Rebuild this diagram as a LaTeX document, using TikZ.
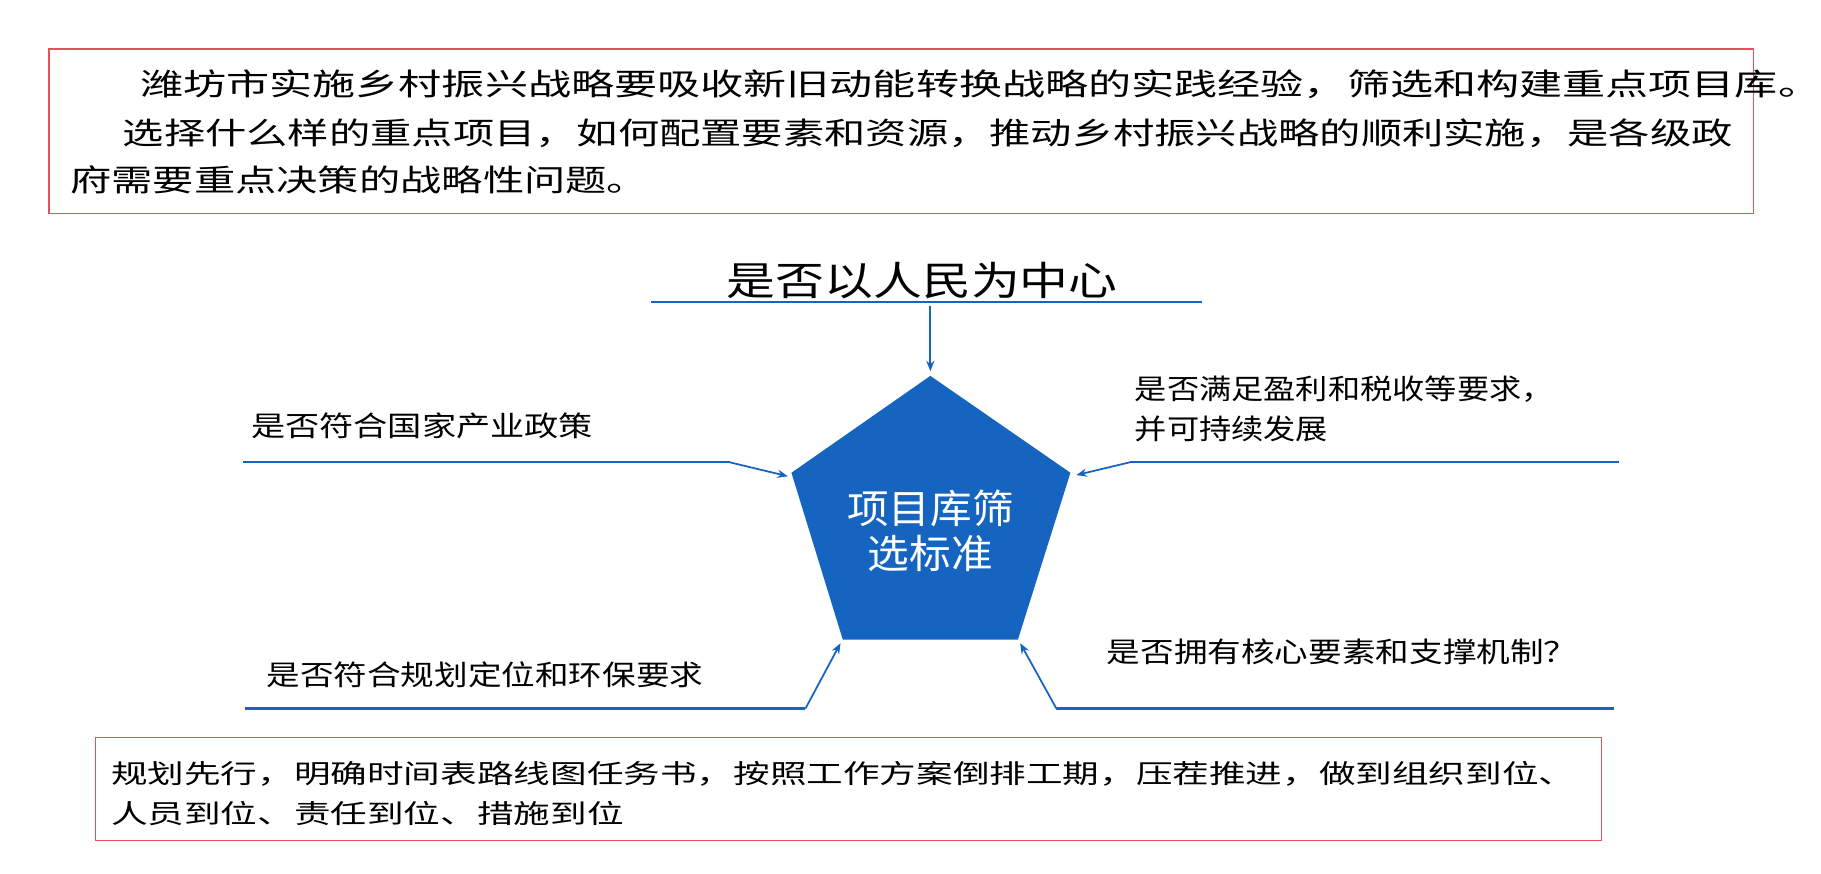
\documentclass[tikz,border=0pt]{standalone}
\usepackage{fontspec}
\newfontfamily\cjk{Noto Sans CJK SC}
\usetikzlibrary{arrows.meta}
\definecolor{bl}{HTML}{1565C0}
\definecolor{rd}{HTML}{E8505B}
\tikzset{
  redbox/.style={draw=rd,line width=1.2pt},
  txt/.style={anchor=west,inner sep=0pt,font=\cjk},
  bline/.style={draw=bl,line width=2pt},
  barrow/.style={draw=bl,line width=1.5pt,-{Stealth[length=9pt,width=7pt]}}
}
\newcommand{\Sx}[3]{\scalebox{#1}[1]{\fontsize{#2}{#2}\selectfont #3}}
\begin{document}
\begin{tikzpicture}[x=1pt,y=-1pt]
\useasboundingbox (0,0) rectangle (1560,748);
\fill[white] (0,0) rectangle (1560,748);
% top box
\draw[redbox] (42,42) rectangle (1502,183);
\node[txt] (t1) at (120,72) {\Sx{1.42}{26}{潍坊市实施乡村振兴战略要吸收新旧动能转换战略的实践经验，筛选和构建重点项目库。}};
\node[txt] (t2) at (105,114) {\Sx{1.36}{26}{选择什么样的重点项目，如何配置要素和资源，推动乡村振兴战略的顺利实施，是各级政}};
\node[txt] (t3) at (60,154) {\Sx{1.36}{26}{府需要重点决策的战略性问题。}};
% pentagon
\fill[bl] (797,322) coordinate (pa) -- (917,405) coordinate (pr) -- (872,548) coordinate (pbr) -- (722,548) coordinate (pbl) -- (678,405) coordinate (pl) -- cycle;
\node[font=\cjk,text=white,align=center,inner sep=0pt] (pc) at (797,455) {\Sx{1.05}{34}{项目库筛}\\[6pt]\Sx{1.05}{34}{选标准}};
% top
\node[font=\cjk,inner sep=0pt] (top) at (790,240) {\Sx{1.23}{34}{是否以人民为中心}};
\coordinate (tl) at (558,259); \coordinate (tr) at (1030,259); \coordinate (tm) at (797,262);
\draw[bline,line width=1.5pt] (tl) -- (tr);
\draw[barrow] (tm) -- ([yshift=4pt]pa);
% left top
\node[txt] (lt) at (215,365) {\Sx{1.22}{24}{是否符合国家产业政策}};
\coordinate (lt1) at (208,396); \coordinate (lt2) at (625,396);
\draw[bline] (lt1) -- (lt2);
\draw[barrow] (lt2) -- (675,408);
% right top
\node[txt] (rt1) at (972,333) {\Sx{1.15}{24}{是否满足盈利和税收等要求，}};
\node[txt] (rt2) at (972,367) {\Sx{1.15}{24}{并可持续发展}};
\coordinate (rt3) at (1387,396); \coordinate (rt4) at (968,396);
\draw[bline] (rt3) -- (rt4);
\draw[barrow] (rt4) -- (922,407);
% bottom left
\node[txt] (lb) at (228,578) {\Sx{1.2}{24}{是否符合规划定位和环保要求}};
\coordinate (lb1) at (210,607); \coordinate (lb2) at (690,607);
\draw[bline] (lb1) -- (lb2);
\draw[barrow] (lb2) -- (720,551);
% bottom right
\node[txt] (rb) at (948,558) {\Sx{1.2}{24}{是否拥有核心要素和支撑机制？}};
\coordinate (rb1) at (1383,607); \coordinate (rb2) at (905,607);
\draw[bline] (rb1) -- (rb2);
\draw[barrow] (rb2) -- (874,551);
% bottom box
\draw[redbox] (82,632) rectangle (1372,720);
\node[txt] (b1) at (95,663) {\Sx{1.4}{22.4}{规划先行，明确时间表路线图任务书，按照工作方案倒排工期，压茬推进，做到组织到位、}};
\node[txt] (b2) at (95,697) {\Sx{1.4}{22.4}{人员到位、责任到位、措施到位}};
\end{tikzpicture}
\end{document}
